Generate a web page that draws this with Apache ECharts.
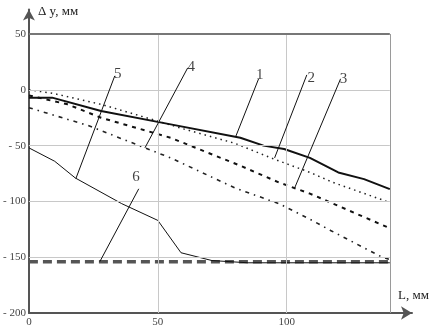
<!DOCTYPE html>
<html>
<head>
<meta charset="utf-8">
<script src="https://cdn.jsdelivr.net/npm/echarts@6/dist/echarts.min.js"></script>
<style>html,body{margin:0;padding:0;background:#fff}#c{width:435px;height:329px}</style>
</head>
<body>
<div id="c"></div>
<script>
// ---- data (L, mm ; Δy, mm) ----
var series1 = [[0,-7],[9,-7],[28,-19],[54,-30.5],[82,-43],[91,-50],[99,-53],[109,-61],[120,-74],[130,-80],[140,-89]];
var series2 = [[0,0],[9,-3],[28,-13],[50,-28],[60,-35],[80,-48],[95,-62],[109,-74],[118,-83],[140,-101]];
var series3 = [[0,-5],[15,-13],[28,-25],[55,-43],[82,-68],[97,-83],[109,-93],[140,-124]];
var series4 = [[0,-16],[23,-32],[45,-52],[55,-61],[80,-88],[97,-102],[109,-116],[117,-126],[137,-150],[140,-152]];
var series5 = [[0,-52],[10,-64],[18,-79],[36,-102],[50,-117],[59,-146],[71,-153],[85,-155],[140,-155]];
var series6 = [[0,-154],[140,-154]];

var xTicks = [0, 50, 100];
var yTicks = [-200, -150, -100, -50, 0, 50];
var xGridLines = [50, 100];
var yGridLines = [-150, -100, -50, 0];

// curve number annotations
var labelNames = ['1','2','3','4','5','6'];
var labelPos = [[89.5,13],[109.5,11],[122,10],[63,20],[34.5,14],[41.5,-78]];
var leaderStart = [[89.1,9.9],[107.8,13.4],[120.9,9.9],[61.6,19.7],[33.3,12.5],[42.6,-88.7]];
var leaderEnd = [[80.2,-42],[95.3,-61],[103.1,-87.8],[45,-52],[18.2,-79.6],[27.5,-154]];

var xEnd = 140, yTop = 50, yBottom = -200;

var gridMarks = [];
xGridLines.forEach(function (x) {
  gridMarks.push([{coord:[x,yBottom]},{coord:[x,yTop]}]);
});
yGridLines.forEach(function (y) {
  gridMarks.push([{coord:[0,y]},{coord:[xEnd,y]}]);
});
gridMarks.push([{coord:[xEnd,yBottom], lineStyle:{color:'#9a9a9a'}},{coord:[xEnd,yTop]}]);
gridMarks.push([{coord:[0,yTop], lineStyle:{color:'#777', width:2}},{coord:[xEnd,yTop]}]);

var font = 'Liberation Serif';
var chart = echarts.init(document.getElementById('c'));
chart.setOption({
  animation: false,
  backgroundColor: '#fff',
  grid: {left: 28, right: 23, top: 9.5, bottom: 16, containLabel: false},
  xAxis: {
    type: 'value', min: 0, max: 148.6, interval: 50,
    axisLine: {show: true, onZero: false, lineStyle: {color: '#555', width: 2}, symbol: ['none','arrow'], symbolSize: [10, 11]},
    axisTick: {show: false},
    splitLine: {show: false},
    axisLabel: {color: '#444', fontFamily: font, fontSize: 11, margin: 4,
      formatter: function (v) { return xTicks.indexOf(v) >= 0 ? String(v) : ''; }}
  },
  yAxis: {
    type: 'value', min: -200, max: 72, interval: 50,
    axisLine: {show: true, onZero: false, lineStyle: {color: '#555', width: 2}, symbol: ['none','arrow'], symbolSize: [9, 11]},
    axisTick: {show: false},
    splitLine: {show: false},
    axisLabel: {color: '#444', fontFamily: font, fontSize: 11, margin: 3,
      formatter: function (v) {
        if (yTicks.indexOf(v) < 0) return '';
        return v < 0 ? '- ' + Math.abs(v) : String(v);
      }}
  },
  graphic: [
    {type: 'text', left: 38, top: 5, style: {text: 'Δ y, мм', font: '13px "Liberation Serif"', fill: '#222'}},
    {type: 'text', left: 398, top: 289, style: {text: 'L, мм', font: '13px "Liberation Serif"', fill: '#222'}}
  ],
  series: [
    {type: 'line', data: [], z: 1, silent: true,
      markLine: {silent: true, symbol: ['none','none'], label: {show: false},
        lineStyle: {color: '#c8c8c8', width: 1, type: 'solid'}, animation: false,
        data: gridMarks}},
    {name: '6', type: 'line', data: series6, symbol: 'none', z: 2,
      lineStyle: {color: '#555', width: 3.5, type: [9,5]}},
    {name: '5', type: 'line', data: series5, symbol: 'none', z: 3,
      lineStyle: {color: '#111', width: 1}},
    {name: '4', type: 'line', data: series4, symbol: 'none', z: 3,
      lineStyle: {color: '#222', width: 1.6, type: [4,5,1.5,5]}},
    {name: '3', type: 'line', data: series3, symbol: 'none', z: 3,
      lineStyle: {color: '#111', width: 2, type: [4,5]}},
    {name: '2', type: 'line', data: series2, symbol: 'none', z: 3,
      lineStyle: {color: '#222', width: 1.5, type: [1.5,4]}},
    {name: '1', type: 'line', data: series1, symbol: 'none', z: 4,
      lineStyle: {color: '#111', width: 2}},
    {type: 'lines', coordinateSystem: 'cartesian2d', z: 5, silent: true,
      lineStyle: {color: '#111', width: 1, opacity: 1, curveness: 0},
      data: leaderStart.map(function (s, i) { return {coords: [s, leaderEnd[i]]}; })},
    {type: 'scatter', symbolSize: 0, z: 5, silent: true,
      data: labelPos.map(function (p, i) { return {name: labelNames[i], value: p}; }),
      label: {show: true, position: 'inside', formatter: '{b}', color: '#111', fontFamily: font, fontSize: 15}}
  ]
});
</script>
</body>
</html>
